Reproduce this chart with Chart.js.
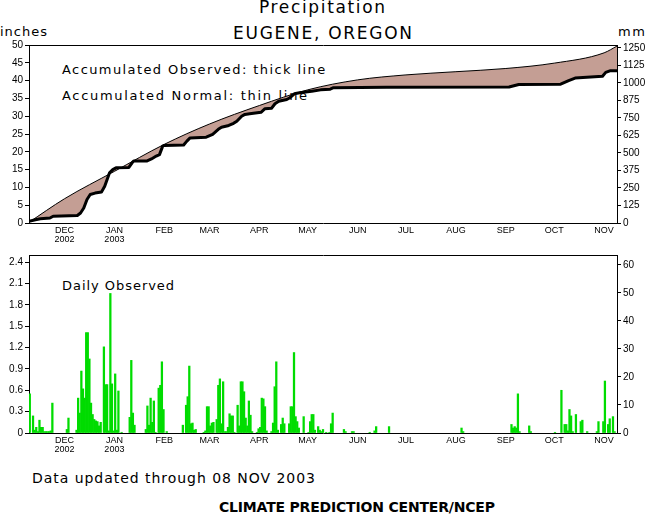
<!DOCTYPE html>
<html><head><meta charset="utf-8">
<script src="https://cdn.jsdelivr.net/npm/chart.js@4.4.0/dist/chart.umd.min.js"></script>
<style>
html,body{margin:0;padding:0;background:#fff;}
#wrap{position:relative;width:648px;height:518px;overflow:hidden;background:#fff;}
canvas{position:absolute;left:0;top:0;z-index:2;}
.t{position:absolute;white-space:nowrap;color:#000;z-index:1;line-height:1;font-family:"DejaVu Sans",sans-serif;}
</style></head><body>
<div id="wrap">
<canvas id="topChart" width="648" height="518"></canvas>
<canvas id="botChart" width="648" height="518"></canvas>
</div>
<script>
// ---------- data ----------
const monthTickDays = [22,53,84,112,143,173,204,234,265,296,326,357]; // days since 09 NOV 2002
const monthLabels = [['DEC','2002'],['JAN','2003'],['FEB'],['MAR'],['APR'],['MAY'],['JUN'],['JUL'],['AUG'],['SEP'],['OCT'],['NOV']];

const accumInchTicks = [0,5,10,15,20,25,30,35,40,45,50];
const accumMmTicks = [0,125,250,375,500,625,750,875,1000,1125,1250];
const dailyInchTicks = [0,0.3,0.6,0.9,1.2,1.5,1.8,2.1,2.4];
const dailyMmTicks = [0,10,20,30,40,50,60];

const normalDays   = [0,22,53,84,112,143,173,204,234,265,296,326,357,365];
const normalInches = [0.2,6.8,14.5,22.1,27.8,33.0,37.4,40.2,41.6,42.5,43.4,44.9,47.8,49.7];

const observedDays   = [0,4,7,13,15,30,32,34,36,38,41,45,47,50,52,54,62,64,65,73,76,79,81,83,84,96,98,100,110,114,117.5,119.5,124,127,129,132,134,137,144,146.5,150.5,152.7,155,160,162,164.7,168,175.5,181,187,189,222,298,304,330,335,339,356,358,361,365];
const observedInches = [0.5,0.9,1.2,1.4,1.9,2.1,2.8,4.2,6.6,8.0,8.4,8.7,10.3,14.1,15.0,15.5,15.6,16.9,17.4,17.4,18.0,18.8,19.2,21.6,21.8,21.9,23.0,23.9,24.1,24.9,26.3,26.9,27.4,28.0,28.6,30.0,30.5,30.7,31.1,32.1,32.2,33.5,34.2,34.7,35.2,36.3,36.6,37.0,37.4,37.6,38.0,38.1,38.2,38.9,39.0,40.0,40.7,41.2,42.3,42.8,42.8];

const rainDays = [
 0,2,3,4,5,6,7,8,9,10,
 11,12,13,14,23,24,29,30,31,32,
 33,34,35,36,37,38,39,40,41,42,
 43,44,46,47,48,49,50,51,52,53,
 54,55,57,62,63,64,65,72,73,74,
 75,76,77,78,80,81,82,83,85,95,
 97,98,99,100,101,102,103,108,109,110,
 111,112,113,114,116,117,118,119,120,121,
 122,123,124,125,126,127,129,130,131,132,
 133,134,135,136,137,138,141,142,143,144,
 145,146,147,150,151,152,153,154,156,157,
 158,161,162,163,164,165,166,167,170,173,
 174,175,176,177,179,180,181,182,184,186,
 187,188,195,196,200,201,211,214,215,223,
 268,269,299,300,301,302,303,304,310,311,
 326,330,332,333,334,335,336,337,339,342,
 343,346,352,353,356,357,359,360,362,363];
const rainInches = [
 0.55,0.24,0.04,0.08,0.02,0.18,0.08,0.08,0.02,0.02,
 0.02,0.02,0.03,0.42,0.05,0.21,0.04,0.49,0.28,0.87,
 0.62,0.49,1.41,1.41,1.04,0.42,0.26,0.19,0.17,0.16,
 0.10,0.15,1.21,0.68,0.68,0.03,1.96,0.69,0.03,0.83,
 0.04,0.59,0.01,0.22,1.02,0.28,0.11,0.05,0.38,0.11,
 0.49,0.15,0.45,0.01,0.63,0.67,1.00,0.33,0.02,0.11,
 0.39,0.51,0.94,0.13,0.14,0.04,0.05,0.01,0.03,0.37,
 0.37,0.10,0.14,0.15,0.19,0.67,0.76,0.13,0.72,0.02,
 0.02,0.08,0.27,0.24,0.24,0.01,0.39,0.10,0.72,0.72,
 0.58,0.21,0.10,0.45,0.25,0.02,0.01,0.06,0.08,0.49,
 0.48,0.37,0.03,0.02,0.14,0.65,1.00,0.04,0.12,0.21,
 0.13,0.13,0.37,0.37,1.13,0.23,0.16,0.07,0.23,0.01,
 0.16,0.26,0.26,0.04,0.09,0.04,0.02,0.05,0.01,0.01,
 0.13,0.28,0.05,0.02,0.02,0.02,0.01,0.03,0.09,0.09,
 0.07,0.02,0.12,0.07,0.09,0.07,0.55,0.02,0.10,0.02,
 0.01,0.60,0.12,0.12,0.03,0.33,0.24,0.02,0.26,0.16,
 0.18,0.02,0.02,0.16,0.16,0.73,0.12,0.20,0.23,0.02];

// ---------- free text ----------
const texts = [
 {s:'Precipitation', x:259, base:13, size:17, w:126},
 {s:'EUGENE, OREGON', x:233, base:39, size:17, w:179},
 {s:'inches', x:0, base:36, size:13, w:47},
 {s:'mm', x:618, base:36, size:13, w:27},
 {s:'Accumulated Observed: thick line', x:62, base:74, size:13, w:263},
 {s:'Accumulated Normal: thin line', x:62, base:100, size:13, w:245},
 {s:'Daily Observed', x:62, base:290, size:13, w:112},
 {s:'Data updated through 08 NOV 2003', x:32, base:483, size:14, w:283},
 {s:'CLIMATE PREDICTION CENTER/NCEP', x:219, base:512, size:14, w:276, bold:true}
];
const wrap = document.getElementById('wrap');
const mctx = document.createElement('canvas').getContext('2d');
texts.forEach(t => {
  const d = document.createElement('div');
  d.className = 't';
  d.style.fontSize = t.size + 'px';
  if (t.bold) d.style.fontWeight = 'bold';
  mctx.font = (t.bold ? 'bold ' : '') + t.size + 'px "DejaVu Sans", sans-serif';
  const w0 = mctx.measureText(t.s).width;
  const ls = (t.w - w0) / (t.s.length - 1);
  d.style.letterSpacing = ls.toFixed(2) + 'px';
  d.appendChild(document.createTextNode(t.s));
  const mk = document.createElement('span');
  mk.style.cssText = 'display:inline-block;width:0;height:0;vertical-align:baseline;';
  d.appendChild(mk);
  d.style.left = t.x + 'px';
  d.style.top = '0px';
  wrap.appendChild(d);
  const off = mk.offsetTop;
  d.style.top = (t.base - off) + 'px';
});

// ---------- charts ----------
const tickFont = {family:'"Liberation Sans", Arial, sans-serif', size:10};
const monthFont = {family:'"Liberation Sans", Arial, sans-serif', size:9, lineHeight:1};
const fillColor = 'rgb(196,158,148)';
const fixW = w => s => { s.width = w; };
const fixH = h => s => { s.height = h; };
const setTicks = arr => s => { s.ticks = arr.map(v => ({value:v})); };

function xAxes() {
  return {
    x: {type:'linear', position:'bottom', min:0, max:365, offset:false,
        afterBuildTicks: setTicks(monthTickDays),
        ticks:{autoSkip:false, maxRotation:0, minRotation:0, padding:3, color:'#000', font:monthFont,
               callback:(v,i)=>monthLabels[i]},
        grid:{drawOnChartArea:false, drawTicks:false},
        border:{color:'#000', width:1}, afterFit: fixH(30)},
    xTop: {type:'linear', position:'top', min:0, max:365, offset:false,
        ticks:{display:false}, grid:{drawOnChartArea:false, drawTicks:false},
        border:{color:'#000', width:1}, afterFit: fixH(0)}
  };
}
function yAxis(pos, min, max, ticksArr, fmt, w) {
  return {type:'linear', position:pos, min:min, max:max,
    afterBuildTicks: setTicks(ticksArr),
    ticks:{padding:2, color:'#000', font:tickFont, callback: fmt},
    grid:{drawOnChartArea:false, drawTicks:true, tickLength:4, color:'#000'},
    border:{color:'#000', width:1}, afterFit: fixW(w)};
}
const intFmt = v => String(Math.round(v));
const decFmt = v => v === 0 ? '0' : v.toFixed(1);

new Chart(document.getElementById('topChart'), {
  type:'line',
  data:{datasets:[
    {label:'Accumulated Observed', data: observedDays.map((d,i)=>({x:d, y:observedInches[i]})),
     borderColor:'#000', borderWidth:3, pointRadius:0, fill:1, backgroundColor:fillColor,
     tension:0, borderJoinStyle:'round', xAxisID:'x', yAxisID:'y'},
    {label:'Accumulated Normal', data: normalDays.map((d,i)=>({x:d, y:normalInches[i]})),
     borderColor:'#000', borderWidth:1, pointRadius:0, fill:false,
     cubicInterpolationMode:'monotone', xAxisID:'x', yAxisID:'y'}
  ]},
  options:{
    responsive:false, animation:false, devicePixelRatio:1,
    layout:{padding:{left:0, right:0, top:45, bottom:265}},
    plugins:{legend:{display:false}, tooltip:{enabled:false}, filler:{drawTime:'beforeDatasetsDraw'}},
    scales: Object.assign(xAxes(), {
      y: yAxis('left', 0, 50, accumInchTicks, intFmt, 29),
      y2: yAxis('right', 0, 1270, accumMmTicks, intFmt, 31)
    })
  }
});

new Chart(document.getElementById('botChart'), {
  type:'bar',
  data:{datasets:[
    {label:'Daily Observed', data: rainDays.map((d,i)=>({x:d+0.5, y:rainInches[i]})),
     backgroundColor:'rgb(0,220,0)', borderWidth:0, barPercentage:1, categoryPercentage:1,
     xAxisID:'x', yAxisID:'y'}
  ]},
  options:{
    responsive:false, animation:false, devicePixelRatio:1,
    layout:{padding:{left:0, right:0, top:255, bottom:55}},
    plugins:{legend:{display:false}, tooltip:{enabled:false}},
    scales: Object.assign(xAxes(), {
      y: yAxis('left', 0, 2.5, dailyInchTicks, decFmt, 29),
      y2: yAxis('right', 0, 63.5, dailyMmTicks, intFmt, 31)
    })
  }
});
</script>
</body></html>
